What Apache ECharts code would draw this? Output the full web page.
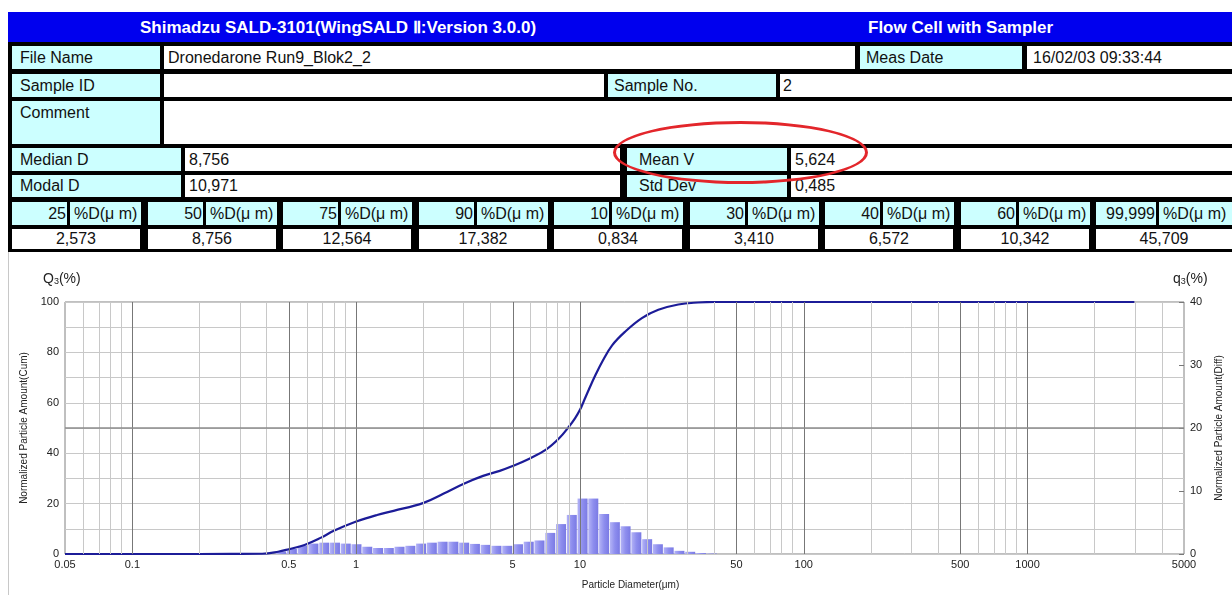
<!DOCTYPE html>
<html><head><meta charset="utf-8">
<script src="https://cdn.jsdelivr.net/npm/echarts@6/dist/echarts.min.js"></script>
<style>
body{margin:0;width:1232px;height:595px;overflow:hidden;background:#fff;font-family:'Liberation Sans',Arial,sans-serif;position:relative}
.c{position:absolute;box-sizing:border-box;font-size:16px;line-height:1;display:flex;align-items:center;white-space:nowrap;color:#111;overflow:hidden}
</style></head><body>
<div id="hdr"></div>
<div style="position:absolute;left:8px;top:252px;width:1px;height:343px;background:#c8c8c8"></div>
<div id="chart" style="position:absolute;left:0;top:252px;width:1232px;height:343px"></div>
<script>
// ---- header texts ----
const titleLeft = 'Shimadzu SALD-3101(WingSALD \u2161:Version 3.0.0)';
const titleRight = 'Flow Cell with Sampler';
const fileName = 'Dronedarone Run9_Blok2_2';
const measDate = '16/02/03 09:33:44';
const sampleNo = '2';
const medianD = '8,756';
const modalD = '10,971';
const meanV = '5,624';
const stdDev = '0,485';
const pctLabels = ['25','50','75','90','10','30','40','60','99,999'];
const pctValues = ['2,573','8,756','12,564','17,382','0,834','3,410','6,572','10,342','45,709'];

// ---- chart data ----
const xTickLabels = ['0.05','0.1','0.5','1','5','10','50','100','500','1000','5000'];
const majorGrid = [0.1,0.5,1,5,10,50,100,500,1000];
const minorGrid = [0.06,0.07,0.08,0.09,0.2,0.3,0.4,0.6,0.7,0.8,0.9,2,3,4,6,7,8,9,20,30,40,60,70,80,90,200,300,400,600,700,800,900,2000,3000,4000];
const binDiameters = [0.462,0.516,0.577,0.644,0.720,0.804,0.898,1.003,1.121,1.252,1.399,1.562,1.746,1.950,2.178,2.433,2.718,3.037,3.393,3.790,4.234,4.730,5.284,5.902,6.594,7.366,8.229,9.193,10.27,11.47,12.82,14.32,15.99,17.86,19.96,22.29,24.91,27.82,31.08,34.72,38.79];
const q3Values = [0.4,0.8,1.3,1.65,1.8,1.8,1.65,1.55,1.15,0.95,0.95,1.15,1.3,1.65,1.8,1.95,1.95,1.8,1.6,1.45,1.3,1.3,1.55,1.95,2.15,3.35,4.75,6.2,8.8,8.8,6.35,5.05,4.4,3.45,2.35,1.55,1.05,0.5,0.35,0.15,0.08];
const cumDiameters = [0.05,0.2,0.38,0.448,0.5,0.588,0.697,0.799,1.0,1.24,1.47,2.0,2.45,3.01,3.69,4.38,5.0,5.94,7.05,8.07,8.94,9.5,10.0,10.42,10.96,11.7,12.57,13.92,15.95,18.91,22.4,27.5,33.7,40,100,3000];
const cumValues = [0,0,0.1,0.9,1.9,3.6,6.5,9.3,12.9,15.5,17.1,20.3,23.9,27.8,31.0,33.0,34.9,37.8,41.4,45.9,50.6,53.8,57.2,60.8,65.3,70.8,76.3,82.8,88.3,93.6,96.9,99.0,99.8,100,100,100];

// ---- header layout ----
const hdr = document.getElementById('hdr');
function box(x,y,w,h,bg,text,opts){
  const d=document.createElement('div');
  d.className='c';
  d.style.left=x+'px';d.style.top=y+'px';d.style.width=w+'px';d.style.height=h+'px';
  d.style.background=bg;
  opts=opts||{};
  d.style.justifyContent=opts.align||'flex-start';
  d.style.paddingLeft=(opts.pl!=null?opts.pl:6)+'px';
  d.style.paddingRight=(opts.pr||0)+'px';
  if(opts.top){d.style.alignItems='flex-start';d.style.paddingTop=opts.top+'px';}
  if(opts.color) d.style.color=opts.color;
  if(opts.fs) d.style.fontSize=opts.fs+'px';
  if(opts.fw) d.style.fontWeight=opts.fw;
  d.textContent=text||'';
  hdr.appendChild(d);
  return d;
}
const K='#ccffff', W='#ffffff';
box(8,42,1224,210,'#000','');
box(8,12,1224,30,'#0000ee','');
box(140,12,430,30,'transparent',titleLeft,{color:'#fff',fs:17,pl:0,fw:'bold'});
box(868,12,220,30,'transparent',titleRight,{color:'#fff',fs:17,pl:0,fw:'bold'});
// row 1
box(12,46,148,23,K,'File Name',{pl:8});
box(164,46,691,23,W,fileName,{pl:4});
box(860,46,162,23,K,'Meas Date',{pl:6});
box(1027,46,205,23,W,measDate,{pl:6});
// row 2
box(12,74,148,23,K,'Sample ID',{pl:8});
box(164,74,440,23,W,'');
box(608,74,168,23,K,'Sample No.',{pl:6});
box(780,74,452,23,W,sampleNo,{pl:3});
// row 3
box(12,101,148,43,K,'Comment',{pl:8,top:4});
box(164,101,1068,43,W,'');
// row 4,5
box(12,148,169,23,K,'Median D',{pl:8});
box(185,148,435,23,W,medianD,{pl:4});
box(627,148,160,23,K,'Mean V',{pl:12});
box(791,148,441,23,W,meanV,{pl:4});
box(12,175,169,22,K,'Modal D',{pl:8});
box(185,175,435,22,W,modalD,{pl:4});
box(627,175,160,22,K,'Std Dev',{pl:12});
box(791,175,441,22,W,stdDev,{pl:4});
// percentile rows
for(let i=0;i<pctLabels.length;i++){
  const gx=Math.round(12+135.5*i);
  const numW = i===8?60:55;
  box(gx,202,numW,23,K,pctLabels[i],{align:'flex-end',pl:0,pr:1});
  const dx=gx+numW+3;
  const dw = i===8? (1232-dx) : 71;
  box(dx,202,dw,23,K,'%D(\u03bc m)',{pl:4});
  const vw = i===8? (1232-gx) : 128;
  box(gx,229,vw,20,W,pctValues[i],{align:'center',pl:0});
}
// red ellipse
const el=document.createElement('div');
el.style.cssText='position:absolute;left:613px;top:121px;width:255px;height:63px;border:3px solid #e3262b;border-radius:50%;box-sizing:border-box;z-index:5';
hdr.appendChild(el);

// ---- chart ----
const L = v => Math.log10(v);
const chart = echarts.init(document.getElementById('chart'), null, {renderer:'canvas'});
const axisFont = {fontFamily:'Liberation Sans', fontSize:11, color:'#222'};
const gridLines = [];
minorGrid.forEach(v=>gridLines.push({xAxis:L(v), lineStyle:{color:'#c8c8c8', width:1, type:'solid'}}));
majorGrid.forEach(v=>gridLines.push({xAxis:L(v), lineStyle:{color:'#777777', width:1, type:'solid'}}));
gridLines.push({yAxis:50, lineStyle:{color:'#8c8c8c', width:1.5, type:'solid'}});

chart.setOption({
  animation:false,
  backgroundColor:'transparent',
  grid:{left:65, right:40, top:50, bottom:35, show:true, borderColor:'#808080', borderWidth:1, backgroundColor:'#fff'},
  xAxis:{
    type:'value', min:L(0.05), max:L(5000),
    axisLine:{show:false}, axisTick:{show:false}, splitLine:{show:false},
    axisLabel:Object.assign({}, axisFont, {
      customValues: xTickLabels.map(s=>L(parseFloat(s))),
      margin:5,
      formatter: v => {
        let best=0, bd=1e9;
        xTickLabels.forEach((s,i)=>{const d=Math.abs(L(parseFloat(s))-v); if(d<bd){bd=d;best=i;}});
        return xTickLabels[best];
      }
    }),
    name:'Particle Diameter(\u03bcm)', nameLocation:'middle', nameGap:26,
    nameTextStyle:{fontFamily:'Liberation Sans', fontSize:10, color:'#222', padding:[0,0,0,12]}
  },
  yAxis:[{
    type:'value', min:0, max:100, interval:10, position:'left',
    axisLine:{show:false}, axisTick:{show:false},
    splitLine:{show:true, lineStyle:{color:'#c8c8c8', width:1}},
    axisLabel:Object.assign({}, axisFont, {margin:6, formatter: v => (v%20===0? String(v):'')}),
    name:'Normalized Particle Amount(Cum)', nameLocation:'middle', nameGap:34, nameRotate:90,
    nameTextStyle:{fontFamily:'Liberation Sans', fontSize:10, color:'#222'}
  },{
    type:'value', min:0, max:40, interval:10, position:'right',
    axisLine:{show:false}, axisTick:{show:true, inside:true, length:5, lineStyle:{color:'#777'}},
    splitLine:{show:false},
    axisLabel:Object.assign({}, axisFont, {margin:6}),
    name:'Normalized Particle Amount(Diff)', nameLocation:'middle', nameGap:30, nameRotate:90,
    nameTextStyle:{fontFamily:'Liberation Sans', fontSize:10, color:'#222'}
  }],
  graphic:[
    {type:'text', left:43, top:20, style:{text:'{a|Q}{b|3}{a|(%)}', rich:{a:{fontFamily:'Liberation Sans', fontSize:14, fill:'#222', verticalAlign:'bottom'}, b:{fontFamily:'Liberation Sans', fontSize:9, fill:'#222', verticalAlign:'bottom'}}}},
    {type:'text', left:1173, top:20, style:{text:'{a|q}{b|3}{a|(%)}', rich:{a:{fontFamily:'Liberation Sans', fontSize:14, fill:'#222', verticalAlign:'bottom'}, b:{fontFamily:'Liberation Sans', fontSize:9, fill:'#222', verticalAlign:'bottom'}}}}
  ],
  series:[
    {type:'line', name:'grid', yAxisIndex:0, data:[[L(0.05),0]], symbol:'none', silent:true, z:1,
      lineStyle:{width:0},
      markLine:{symbol:'none', silent:true, animation:false, label:{show:false}, data:gridLines}},
    {type:'bar', name:'q3', yAxisIndex:1, barWidth:10, z:3,
      data: binDiameters.map((d,i)=>[L(d), q3Values[i]]),
      itemStyle:{color:new echarts.graphic.LinearGradient(0,0,1,0,[{offset:0,color:'#b4b4f6'},{offset:0.5,color:'#8e8eee'},{offset:1,color:'#7a7ae4'}])}},
    {type:'line', name:'Q3', yAxisIndex:0, z:4, smooth:0.4, symbol:'none',
      data: cumDiameters.map((d,i)=>[L(d), cumValues[i]]),
      lineStyle:{color:'#1c1c98', width:2.2}}
  ]
});
</script>
</body></html>
